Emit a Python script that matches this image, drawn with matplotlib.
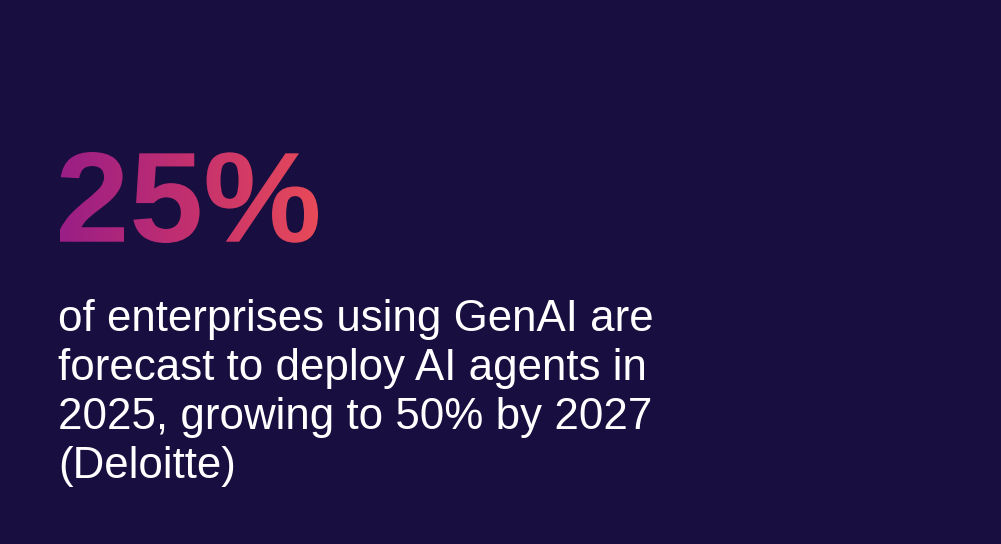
import numpy as np
import matplotlib
matplotlib.use("Agg")
from matplotlib import pyplot as plt
from matplotlib.textpath import TextPath
from matplotlib.patches import PathPatch
from matplotlib.font_manager import FontProperties
from matplotlib.transforms import Affine2D
from matplotlib.colors import LinearSegmentedColormap

W, H = 1001, 544
bg = '#180e3f'

headline = '25%'
body_lines = ['of enterprises using GenAI are',
              'forecast to deploy AI agents in',
              '2025, growing to 50% by 2027',
              '(Deloitte)']
grad_colors = ['#9a1e86', '#c3306f', '#e84a58']

fig = plt.figure(figsize=(W / 100, H / 100), dpi=100, facecolor=bg)
ax = fig.add_axes([0, 0, 1, 1])
ax.set_xlim(0, W)
ax.set_ylim(0, H)
ax.axis('off')
ax.set_facecolor(bg)

# headline as a path, fitted to its box, filled with a gradient
tp = TextPath((0, 0), headline, size=100,
              prop=FontProperties(family='Liberation Sans', weight='bold'))
ext = tp.get_extents()
x0, x1, top, base = 60, 318, 152, 243
sx = (x1 - x0) / ext.width
sy = (base - top) / ext.height
tr = Affine2D().translate(-ext.x0, -ext.y0).scale(sx, sy).translate(x0, H - base)
patch = PathPatch(tr.transform_path(tp), facecolor='none', edgecolor='none')
ax.add_patch(patch)
cmap = LinearSegmentedColormap.from_list('g', grad_colors)
grad = np.linspace(0, 1, 256).reshape(1, -1)
im = ax.imshow(grad, cmap=cmap, extent=[x0, x1, H - base, H - top], aspect='auto')
im.set_clip_path(patch)

for i, line in enumerate(body_lines):
    ax.text(58, H - (331 + 49 * i), line, color='white', fontsize=31.6,
            family='Liberation Sans', va='baseline', ha='left')

fig.savefig('out.png', dpi=100, facecolor=bg)
